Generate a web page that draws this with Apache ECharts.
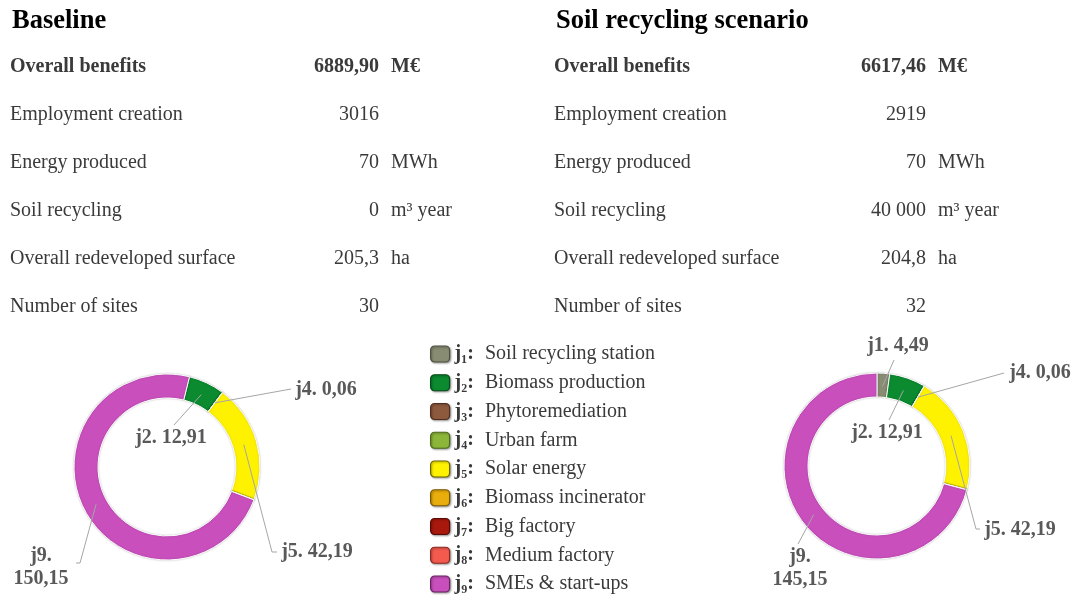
<!DOCTYPE html>
<html>
<head>
<meta charset="utf-8">
<script src="https://cdn.jsdelivr.net/npm/echarts@6/dist/echarts.min.js"></script>
<style>
html,body{margin:0;padding:0;background:#fff;}
#chart{width:1076px;height:597px;}
</style>
</head>
<body>
<div id="chart"></div>
<script>
// ---------- DATA ----------
const categories = ['j1','j2','j3','j4','j5','j6','j7','j8','j9'];
const categoryNames = ['Soil recycling station','Biomass production','Phytoremediation','Urban farm','Solar energy','Biomass incinerator','Big factory','Medium factory','SMEs & start-ups'];
const categoryColors = ['#878c72','#0b8a2f','#8e5a3e','#8cb63a','#fff200','#e9ad0c','#a8180c','#f55a4f','#c94fbd'];
const categoryBorders = ['#4e5240','#064d1a','#4f3020','#4d6a1a','#6b6400','#7a5a00','#5a0a04','#8a2a22','#6a2463'];
const baselineValues = [0, 12.91, 0, 0.06, 42.19, 0, 0, 0, 150.15];
const scenarioValues = [4.49, 12.91, 0, 0.06, 42.19, 0, 0, 0, 145.15];

const metricLabels = ['Overall benefits','Employment creation','Energy produced','Soil recycling','Overall redeveloped surface','Number of sites'];
const baselineMetrics = ['6889,90','3016','70','0','205,3','30'];
const scenarioMetrics = ['6617,46','2919','70','40 000','204,8','32'];
const metricUnits = ['M€','','MWh','m³ year','ha',''];
const panelTitles = ['Baseline','Soil recycling scenario'];

// ---------- STYLE / LAYOUT ----------
const serif = '"Liberation Serif","Times New Roman",serif';
const textColor = '#3a3a3a';
const subDigits = ['₁','₂','₃','₄','₅','₆','₇','₈','₉'];
const pieCenters = [[167,467],[877,466]];
const pieStartAngles = [76, 90];
const pieRadius = [69, 93];
const anchorRadius = 80;

function fmt(v){ return v.toFixed(2).replace('.', ','); }

// label placement: text centre and leader-line path end (after the anchor inside the slice)
const labelPos = [
  { j2:{c:[171,438], line:[[174,425]]},
    j4:{c:[326,390], line:[[291,389]]},
    j5:{c:[317,552], line:[[272,552],[277,552]]},
    j9:{c:[41,567],  line:[[80,563],[76,563]]} },
  { j1:{c:[898,346], line:[[894,360]]},
    j2:{c:[887,433], line:[[889,420]]},
    j4:{c:[1040,373], line:[[1004,373]]},
    j5:{c:[1020,530], line:[[976,529],[980,529]]},
    j9:{c:[800,568], line:[[798,544]]} }
];

// mid-angle anchor of a slice, derived from the data (clockwise from startAngle)
function sliceAnchor(values, idx, i){
  const total = values.reduce((a,b)=>a+b,0);
  let before = 0;
  for(let k=0;k<i;k++) before += values[k];
  const startFromTop = 90 - pieStartAngles[idx];
  const mid = (startFromTop + 360*(before + values[i]/2)/total) * Math.PI/180;
  const c = pieCenters[idx];
  return [c[0] + anchorRadius*Math.sin(mid), c[1] - anchorRadius*Math.cos(mid)];
}

function pieData(values, overlay){
  return categories.map((c,i)=>{
    const item = { name:c, value:values[i], itemStyle:{ color: overlay ? 'rgba(0,0,0,0)' : categoryColors[i] } };
    if(values[i] === 0){
      item.label = { show:false };
      item.labelLine = { show:false };
    }
    return item;
  });
}

// base ring (coloured slices)
function pieSeries(values, idx){
  return {
    type:'pie',
    center:pieCenters[idx],
    radius:pieRadius,
    startAngle:pieStartAngles[idx],
    clockwise:true,
    silent:true,
    animation:false,
    z:2,
    itemStyle:{ borderColor:'#ffffff', borderWidth:1, shadowBlur:2, shadowColor:'rgba(0,0,0,0.22)' },
    label:{ show:false },
    labelLine:{ show:false },
    data:pieData(values, false)
  };
}

// transparent twin ring that carries labels and leader lines above the slices
function labelSeries(values, idx){
  return {
    type:'pie',
    center:pieCenters[idx],
    radius:pieRadius,
    startAngle:pieStartAngles[idx],
    clockwise:true,
    avoidLabelOverlap:false,
    silent:true,
    animation:false,
    z:3,
    legendHoverLink:false,
    itemStyle:{ borderWidth:0 },
    label:{
      show:true,
      position:'outside',
      fontFamily:serif,
      fontWeight:'bold',
      fontSize:20,
      color:'#595959',
      lineHeight:23,
      formatter:function(p){
        return p.name === 'j9' ? p.name + '.\n' + fmt(p.value) : p.name + '. ' + fmt(p.value);
      }
    },
    labelLine:{ show:true, length:10, length2:10, lineStyle:{ color:'#a6a6a6', width:1, opacity:1 } },
    labelLayout:function(p){
      const name = categories[p.dataIndex];
      const L = labelPos[idx][name];
      if(!L) return {};
      return {
        x:L.c[0], y:L.c[1], align:'center', verticalAlign:'middle',
        labelLinePoints:[sliceAnchor(values, idx, p.dataIndex)].concat(L.line)
      };
    },
    data:pieData(values, true)
  };
}

// table graphic
const graphics = [];
const cols = [
  { title:panelTitles[0], titleX:12, labelX:10, valueX:379, unitX:391, values:baselineMetrics },
  { title:panelTitles[1], titleX:556, labelX:554, valueX:926, unitX:938, values:scenarioMetrics }
];
cols.forEach(col=>{
  graphics.push({ type:'text', x:col.titleX, y:21, style:{ text:col.title, font:'bold 26.5px '+serif, fill:'#000', verticalAlign:'middle' } });
  metricLabels.forEach((lab,i)=>{
    const y = 67 + i*48;
    const bold = i === 0 ? 'bold ' : '';
    graphics.push({ type:'text', x:col.labelX, y:y, style:{ text:lab, font:bold+'20px '+serif, fill:textColor, verticalAlign:'middle', align:'left' } });
    graphics.push({ type:'text', x:col.valueX, y:y, style:{ text:col.values[i], font:bold+'20px '+serif, fill:textColor, verticalAlign:'middle', align:'right' } });
    if(metricUnits[i]) graphics.push({ type:'text', x:col.unitX, y:y, style:{ text:metricUnits[i], font:bold+'20px '+serif, fill:textColor, verticalAlign:'middle', align:'left' } });
  });
});

const chart = echarts.init(document.getElementById('chart'), null, { renderer:'canvas' });
chart.setOption({
  backgroundColor:'#ffffff',
  animation:false,
  graphic:graphics,
  legend:{
    orient:'vertical',
    left:430,
    top:344,
    padding:0,
    itemWidth:19,
    itemHeight:16,
    itemGap:8.75,
    icon:'roundRect',
    selectedMode:false,
    data:categories.map((c,i)=>({ name:c, itemStyle:{ color:categoryColors[i], borderColor:categoryBorders[i], borderWidth:1.2, shadowBlur:2, shadowColor:'rgba(0,0,0,0.35)', shadowOffsetX:1, shadowOffsetY:1 } })),
    formatter:function(name){
      const i = categories.indexOf(name);
      return '{b|j' + subDigits[i] + ':}{t|' + categoryNames[i] + '}';
    },
    textStyle:{
      fontFamily:serif,
      fontSize:20,
      color:textColor,
      lineHeight:20,
      rich:{
        b:{ fontFamily:serif, fontWeight:'bold', fontSize:20, color:textColor, lineHeight:20, padding:[0,11,0,0] },
        t:{ fontFamily:serif, fontSize:20, color:textColor, lineHeight:20 }
      }
    }
  },
  series:[
    pieSeries(baselineValues, 0),
    pieSeries(scenarioValues, 1),
    labelSeries(baselineValues, 0),
    labelSeries(scenarioValues, 1)
  ]
});
</script>
</body>
</html>
